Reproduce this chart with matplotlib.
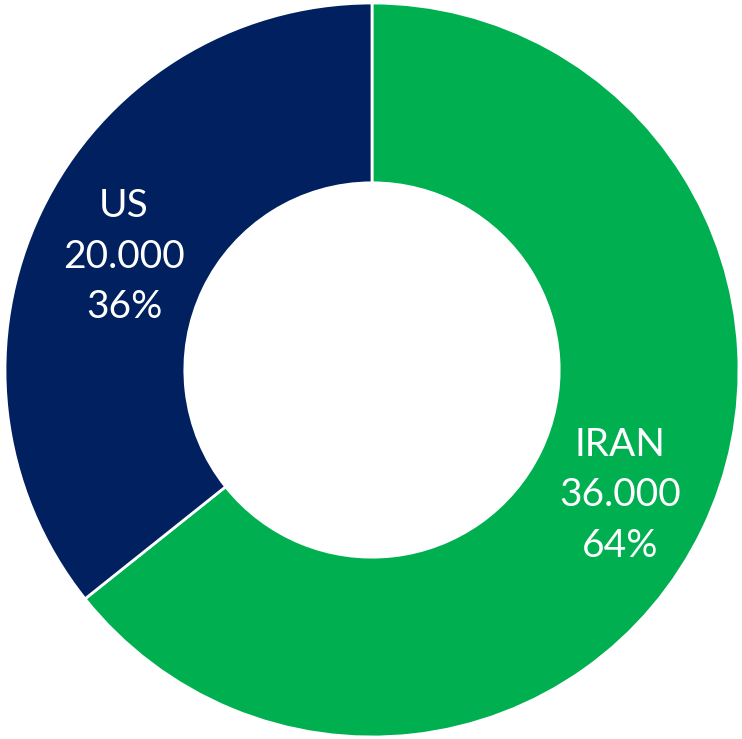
import matplotlib
matplotlib.use("Agg")
import matplotlib.pyplot as plt

countries = ["IRAN", "US"]
values = [36000, 20000]
colors = ["#00B050", "#002060"]

plt.rcParams["font.family"] = ["Lato", "DejaVu Sans"]

fig = plt.figure(figsize=(7.42, 7.39), dpi=100)
ax = fig.add_axes([0, 0, 1, 1])

total = sum(values)
labels = ["{}\n{}\n{:.0f}%".format(c, "{:,}".format(v).replace(",", "."), 100 * v / total)
          for c, v in zip(countries, values)]

wedges, texts = ax.pie(values, colors=colors, startangle=90, counterclock=False,
                       labels=labels, labeldistance=0.75,
                       wedgeprops=dict(width=0.49, edgecolor="white", linewidth=2),
                       textprops=dict(color="white", fontsize=28, linespacing=1.5))
r = 367.0
for t in texts:
    t.set_ha("center")
    t.set_va("center")
    x, y = t.get_position()
    t.set_position((x, y - 6 / r))

ax.set_xlim(-372 / r, (742 - 372) / r)
ax.set_ylim(-(739 - 370) / r, 370 / r)
ax.set_aspect("auto")
ax.axis("off")

plt.savefig("out.png", dpi=100)
